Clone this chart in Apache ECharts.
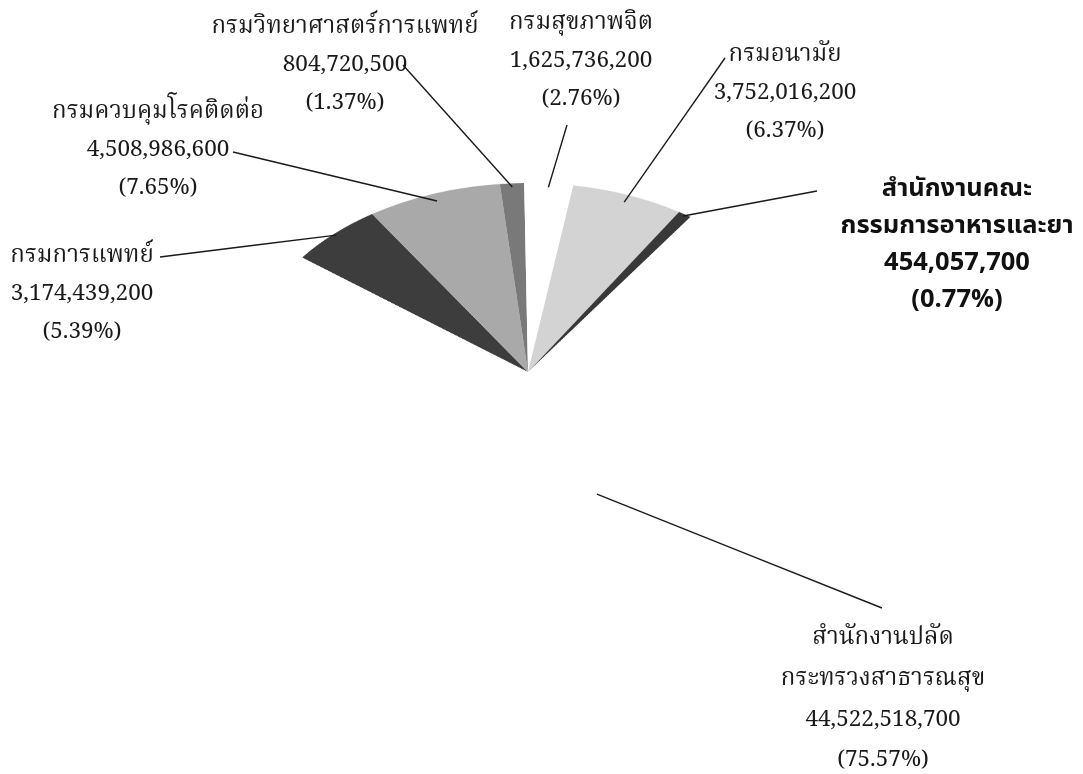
<!DOCTYPE html>
<html>
<head>
<meta charset="utf-8">
<script src="https://cdn.jsdelivr.net/npm/echarts@6/dist/echarts.min.js"></script>
<style>
  html, body { margin: 0; padding: 0; background: #fff; }
  #wrap { position: relative; width: 1083px; height: 774px; overflow: hidden; }
  #pie { position: absolute; left: 0; top: 0; width: 1083px; transform-origin: 0 0; }
  #labels { position: absolute; left: 0; top: 0; width: 1083px; height: 774px; }
</style>
</head>
<body>
<div id="wrap">
  <div id="pie"></div>
  <div id="labels"></div>
</div>
<script>
// data (clockwise from the left edge of the fan)
const names = [
  'กรมการแพทย์',
  'กรมควบคุมโรคติดต่อ',
  'กรมวิทยาศาสตร์การแพทย์',
  'กรมสุขภาพจิต',
  'กรมอนามัย',
  'สำนักงานคณะ\nกรรมการอาหารและยา',
  'สำนักงานปลัด\nกระทรวงสาธารณสุข'
];
const values = [3174439200, 4508986600, 804720500, 1625736200, 3752016200, 454057700, 44522518700];
const percents = ['5.39', '7.65', '1.37', '2.76', '6.37', '0.77', '75.57'];
const colors = ['#3d3d3d', '#a9a9a9', '#797979', '#ffffff', '#d3d3d3', '#383838', '#ffffff'];

// label placement (centre x, middle y, label end of the leader line,
// depth and angle shift of its end inside the slice)
const labelX = [82, 158, 345, 581, 785, 957, 883];
const labelY = [296, 152, 67, 63, 95, 246, 701];
const lineOuter = [[160, 257], [233, 152], [403, 65], [567, 125], [725, 58], [817, 191], [882, 608]];
const lineDepth = [0.99, 0.96, 0.98, 0.98, 0.96, 0.99, 0.69];
const lineShift = [0, 0, 0, 0, 0, 0, 11.7];

// tilted pie geometry
const CX = 528, CY = 372, RX = 284, RY = 189, START = 142.7;
const tilt = RY / RX;

const pieDiv = document.getElementById('pie');
pieDiv.style.height = (774 / tilt) + 'px';
pieDiv.style.transform = 'scaleY(' + tilt + ')';

const total = values.reduce((a, b) => a + b, 0);
const innerPoints = [];
let cum = 0;
values.forEach((v, i) => {
  const mid = (START - (cum + v / 2) / total * 360 + lineShift[i]) * Math.PI / 180;
  cum += v;
  const f = lineDepth[i];
  innerPoints.push([CX + RX * f * Math.cos(mid), CY - RY * f * Math.sin(mid)]);
});

const fmt = (v) => v.toLocaleString('en-US');
const thaiFont = "'Noto Serif Thai', 'Noto Sans Thai', 'DejaVu Serif', serif";

echarts.init(pieDiv).setOption({
  animation: false,
  series: [{
    type: 'pie',
    silent: true,
    center: [CX, CY / tilt],
    radius: RX,
    startAngle: START,
    label: { show: false },
    labelLine: { show: false },
    data: values.map((v, i) => ({ value: v, name: names[i], itemStyle: { color: colors[i] } })),
  }],
});

echarts.init(document.getElementById('labels')).setOption({
  animation: false,
  series: [{
    type: 'pie',
    silent: true,
    center: [CX, CY],
    radius: 10,
    startAngle: START,
    avoidLabelOverlap: false,
    itemStyle: { color: 'rgba(0,0,0,0)' },
    label: {
      show: true,
      position: 'outside',
      color: '#1a1a1a',
      fontFamily: thaiFont,
      align: 'center',
      formatter: (p) => p.name.split('\n').map((s) => '{n|' + s + '}').join('\n')
        + '\n{v|' + fmt(p.value) + '}\n{v|(' + percents[p.dataIndex] + '%)}',
      rich: {
        n: { fontFamily: thaiFont, fontSize: 24, lineHeight: 38, color: '#1a1a1a' },
        v: { fontFamily: thaiFont, fontSize: 22.5, lineHeight: 38, color: '#1a1a1a' },
      },
    },
    labelLine: { show: true, lineStyle: { color: '#1a1a1a', width: 1.4 } },
    labelLayout: (p) => {
      const i = p.dataIndex;
      const a = innerPoints[i];
      const b = lineOuter[i];
      return {
        x: labelX[i],
        y: labelY[i],
        align: 'center',
        verticalAlign: 'middle',
        labelLinePoints: [a, [(a[0] + b[0]) / 2, (a[1] + b[1]) / 2], b],
      };
    },
    data: values.map((v, i) => {
      const item = { value: v, name: names[i] };
      if (i === 5) {
        const bold = { fontFamily: "'Noto Sans Thai', 'Liberation Sans Narrow', sans-serif", fontWeight: 'bold', fontSize: 25.5, lineHeight: 37, color: '#111' };
        item.label = { rich: { n: bold, v: bold } };
      }
      if (i === 6) {
        item.label = {
          rich: {
            n: { fontFamily: thaiFont, fontSize: 24, lineHeight: 41, color: '#1a1a1a' },
            v: { fontFamily: thaiFont, fontSize: 22.5, lineHeight: 40, color: '#1a1a1a' },
          },
        };
      }
      return item;
    }),
  }],
});
</script>
</body>
</html>
